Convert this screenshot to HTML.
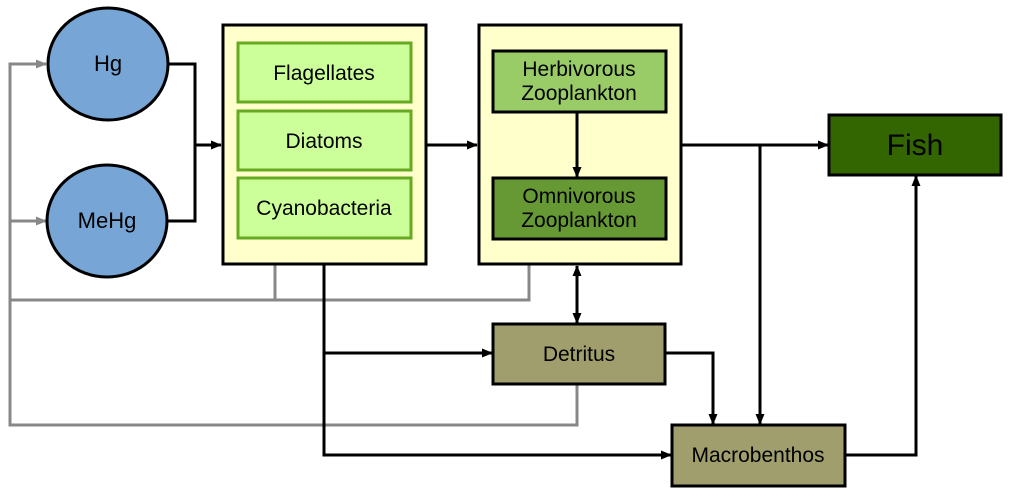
<!DOCTYPE html>
<html><head><style>body{margin:0;background:#fff}svg{display:block}text{font-family:"Liberation Sans",sans-serif;fill:#000}</style></head>
<body>
<svg width="1013" height="496" viewBox="0 0 1013 496">
<defs>
<marker id="a" markerWidth="11" markerHeight="9" refX="10" refY="4.5" orient="auto" markerUnits="userSpaceOnUse"><path d="M0,0L11,4.5L0,9z" fill="#000"/></marker>
<marker id="g" markerWidth="11" markerHeight="9" refX="10" refY="4.5" orient="auto" markerUnits="userSpaceOnUse"><path d="M0,0L11,4.5L0,9z" fill="#888"/></marker>
<marker id="s" markerWidth="11" markerHeight="9" refX="1" refY="4.5" orient="auto" markerUnits="userSpaceOnUse"><path d="M11,0L0,4.5L11,9z" fill="#000"/></marker>
</defs>
<g fill="none" stroke="#888" stroke-width="3">
<path d="M275,264V300H10"/><path d="M529,264V300H10"/><path d="M577,384V425H10V64H46" marker-end="url(#g)"/><path d="M10,221H46" marker-end="url(#g)"/>
</g>
<g fill="none" stroke="#000" stroke-width="3">
<path d="M168,64H195V145"/><path d="M167,221H195V145H221" marker-end="url(#a)"/>
<path d="M426,145H477" marker-end="url(#a)"/>
<path d="M681,145H828" marker-end="url(#a)"/>
<path d="M760,145V424" marker-end="url(#a)"/>
<path d="M577,266V323" marker-end="url(#a)" marker-start="url(#s)"/>
<path d="M665,353H713V424" marker-end="url(#a)"/>
<path d="M845,455H916V176" marker-end="url(#a)"/>
<path d="M324,264V455H671" marker-end="url(#a)"/>
<path d="M324,353H492" marker-end="url(#a)"/>
</g>
<ellipse cx="108" cy="64" rx="60" ry="56" fill="#77a6d6" stroke="#000" stroke-width="3"/>
<ellipse cx="107" cy="221" rx="60" ry="56" fill="#77a6d6" stroke="#000" stroke-width="3"/>
<text x="108" y="71" font-size="22" text-anchor="middle">Hg</text>
<text x="107" y="228" font-size="22" text-anchor="middle">MeHg</text>
<rect x="223" y="25" width="203" height="239" fill="#ffffcc" stroke="#000" stroke-width="3"/>
<g fill="#ccff99" stroke="#66aa22" stroke-width="3">
<rect x="238" y="43" width="173" height="59"/><rect x="238" y="111" width="173" height="59"/><rect x="238" y="178" width="173" height="60"/>
</g>
<g font-size="21" text-anchor="middle"><text x="324" y="80">Flagellates</text><text x="324" y="148">Diatoms</text><text x="324" y="215">Cyanobacteria</text></g>
<rect x="479" y="25" width="202" height="239" fill="#ffffcc" stroke="#000" stroke-width="3"/>
<rect x="493" y="51" width="173" height="61" fill="#99cc66" stroke="#000" stroke-width="3"/>
<rect x="493" y="178" width="173" height="61" fill="#669933" stroke="#000" stroke-width="3"/>
<path d="M577,112V177" fill="none" stroke="#000" stroke-width="3" marker-end="url(#a)"/>
<g font-size="21" text-anchor="middle"><text x="579" y="76">Herbivorous</text><text x="579" y="100">Zooplankton</text><text x="579" y="203">Omnivorous</text><text x="579" y="227">Zooplankton</text></g>
<rect x="829" y="115" width="172" height="60" fill="#336600" stroke="#000" stroke-width="3"/>
<text x="915" y="155" font-size="30" text-anchor="middle">Fish</text>
<rect x="493" y="324" width="172" height="60" fill="#a09e6c" stroke="#000" stroke-width="3"/>
<text x="579" y="361" font-size="21" text-anchor="middle">Detritus</text>
<rect x="672" y="425" width="173" height="61" fill="#a09e6c" stroke="#000" stroke-width="3"/>
<text x="758" y="462" font-size="21" text-anchor="middle">Macrobenthos</text>
</svg>
</body></html>
